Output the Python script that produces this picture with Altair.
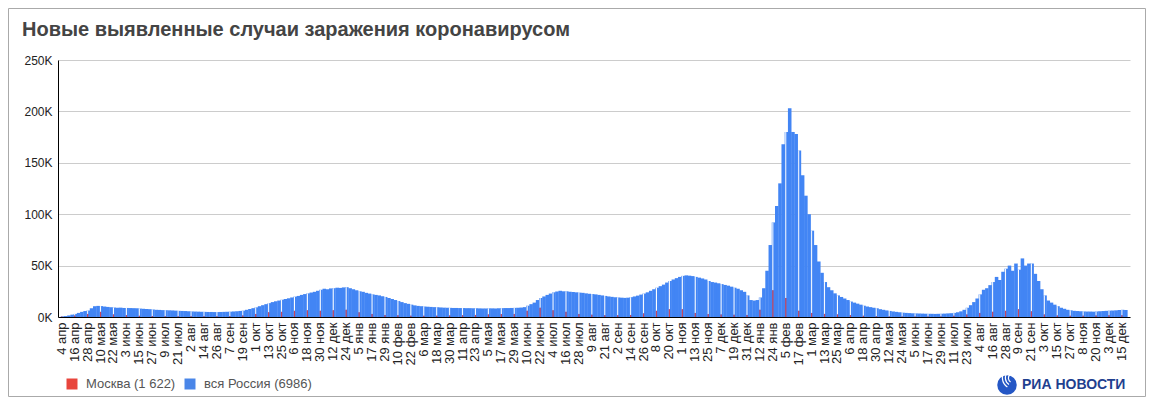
import altair as alt
import pandas as pd

TITLE = "Новые выявленные случаи заражения коронавирусом"

tick_labels = [
    "4 апр", "16 апр", "28 апр", "10 мая", "22 мая", "3 июн", "15 июн", "27 июн",
    "9 июл", "21 июл", "2 авг", "14 авг", "26 авг", "7 сен", "19 сен", "1 окт",
    "13 окт", "25 окт", "6 ноя", "18 ноя", "30 ноя", "12 дек", "24 дек", "5 янв",
    "17 янв", "29 янв", "10 фев", "22 фев", "6 мар", "18 мар", "30 мар", "11 апр",
    "23 апр", "5 мая", "17 мая", "29 мая", "10 июн", "22 июн", "4 июл", "16 июл",
    "28 июл", "9 авг", "21 авг", "2 сен", "14 сен", "26 сен", "8 окт", "20 окт",
    "1 ноя", "13 ноя", "25 ноя", "7 дек", "19 дек", "31 дек", "12 янв", "24 янв",
    "5 фев", "17 фев", "1 мар", "13 мар", "25 мар", "6 апр", "18 апр", "30 апр",
    "12 мая", "24 мая", "5 июн", "17 июн", "29 июн", "11 июл", "23 июл", "4 авг",
    "16 авг", "28 авг", "9 сен", "21 сен", "3 окт", "15 окт", "27 окт", "8 ноя",
    "20 ноя", "3 дек", "15 дек",
]

# вся Россия, thousands of cases, one value per 3-day step (4 steps between labels)
russia_k = [
    0.6, 0.9, 1.5, 2.3,   3.0, 4.0, 5.0, 5.8,   6.4, 8.5, 10.5, 10.8,  10.6, 10.2, 9.8, 9.5,
    9.2, 9.0, 9.1, 8.8,   8.8, 8.7, 8.6, 8.5,   8.2, 8.0, 7.8, 7.6,    7.3, 7.0, 6.9, 6.7,
    6.6, 6.5, 6.4, 6.2,   6.0, 5.9, 5.8, 5.6,   5.4, 5.3, 5.2, 5.1,    5.0, 4.9, 4.9, 4.8,
    4.8, 4.9, 5.0, 5.1,   5.2, 5.4, 5.6, 5.9,   6.2, 7.0, 7.8, 8.6,    9.4, 10.5, 11.5, 12.5,
    13.5, 14.5, 15.3, 16.0, 16.8, 17.5, 18.2, 19.0, 19.8, 20.5, 21.5, 22.3, 23.0, 23.8, 24.5, 25.5,
    26.5, 27.5, 27.0, 27.8, 28.0, 28.5, 28.3, 28.8, 29.0, 28.0, 27.0, 26.0, 25.0, 24.5, 23.5, 22.8,
    22.0, 21.5, 21.0, 20.2, 19.5, 18.5, 17.5, 16.5, 15.5, 14.5, 13.5, 12.8, 12.0, 11.3, 10.8, 10.5,
    10.2, 10.0, 9.8, 9.6,  9.5, 9.3, 9.1, 9.0,   8.9, 8.8, 8.8, 8.7,    8.7, 8.6, 8.6, 8.5,
    8.5, 8.4, 8.3, 8.3,   8.4, 8.4, 8.3, 8.5,   8.6, 8.7, 8.7, 8.8,    8.9, 9.0, 9.2, 9.6,
    11.0, 12.5, 14.0, 16.5, 18.5, 20.0, 21.5, 22.8, 24.0, 24.8, 25.5, 25.0, 25.0, 24.6, 24.3, 24.0,
    23.7, 23.5, 23.0, 22.6, 22.3, 22.0, 21.5, 21.0, 20.5, 20.0, 19.6, 19.2, 19.0, 18.8, 18.6, 18.8,
    19.3, 20.0, 20.8, 21.8, 22.8, 24.0, 25.5, 27.0, 28.5, 30.0, 31.5, 33.5, 35.0, 36.5, 37.8, 39.0,
    40.0, 40.5, 40.2, 39.8, 39.0, 38.3, 37.5, 36.5, 35.0, 34.0, 33.5, 32.8, 32.0, 31.2, 30.5, 29.5,
    28.5, 27.5, 26.0, 24.5, 21.0, 16.5, 16.0, 16.5, 19.0, 28.0, 45.0, 70.0, 92.0, 108.0, 130.0, 168.0,
    180.0, 203.0, 180.0, 178.0, 162.0, 138.0, 118.0, 100.0, 84.0, 70.0, 54.0, 43.0, 34.0, 29.0, 26.0, 23.0,
    21.0, 19.5, 18.0, 16.5, 15.0, 14.0, 13.0, 12.0, 11.0, 10.2, 9.6, 9.0, 8.5, 7.6, 7.0, 6.4,
    5.9, 5.4, 5.0, 4.6,   4.2, 4.0, 3.8, 3.6,   3.5, 3.4, 3.3, 3.2,    3.1, 3.1, 3.0, 3.1,
    3.2, 3.3, 3.5, 3.7,   4.0, 4.6, 5.5, 7.0,   9.0, 11.5, 14.5, 18.0,  22.0, 26.5, 28.0, 31.0,
    34.0, 39.0, 36.0, 44.0, 47.0, 50.0, 45.0, 52.0, 46.0, 57.0, 50.0, 52.0, 52.0, 42.0, 35.0, 27.0,
    21.0, 16.0, 14.0, 12.0, 10.5, 9.0, 8.0, 7.0, 6.5, 6.0, 5.8, 5.5, 5.4, 5.3, 5.3, 5.2,
    5.4, 5.6, 5.8, 6.0,   6.2, 6.3, 6.5, 6.8,   7.0, 6.8,
]

# Москва, thousands of cases, at each labelled date
moscow_k = [
    0.4, 1.4, 3.0, 5.0, 2.5, 1.8, 1.1, 0.9, 0.7, 0.65, 0.7, 0.7, 0.7, 0.8, 1.5, 3.0,
    4.5, 5.0, 6.0, 6.5, 6.0, 6.5, 7.0, 4.5, 3.0, 2.0, 1.6, 1.3, 1.2, 1.3, 1.5, 1.7,
    2.0, 2.5, 2.8, 3.0, 6.0, 9.0, 6.5, 5.0, 3.0, 2.3, 1.8, 1.6, 2.0, 3.5, 6.0, 7.5,
    7.5, 4.0, 2.8, 2.5, 2.2, 2.0, 7.0, 26.0, 18.5, 6.0, 4.0, 3.0, 2.5, 1.8, 1.2, 0.8,
    0.6, 0.5, 0.45, 0.45, 0.6, 1.2, 2.5, 4.0, 5.0, 6.0, 7.5, 5.5, 2.5, 1.5, 1.2, 1.3,
    1.5, 1.6, 1.6,
]

legend_labels = ["Москва (1 622)", "вся Россия (6986)"]
legend_colors = ["#e8453c", "#4a86e8"]

STEP = 3
TICK_EVERY = 12
BLUE = "#4285f4"
RED = "#c9445a"
FONT = "Liberation Sans"

bars = pd.DataFrame({
    "x0": [i * STEP - 0.5 for i in range(len(russia_k))],
    "x1": [i * STEP + STEP - 0.2 for i in range(len(russia_k))],
    "v": [v * 1000 for v in russia_k],
})
ticks = pd.DataFrame({
    "x0": [i * TICK_EVERY + 0.5 for i in range(len(tick_labels))],
    "v": [m * 1000 for m in moscow_k],
    "russia": [russia_k[i * TICK_EVERY // STEP] * 1000 for i in range(len(tick_labels))],
})

label_expr = "[" + ",".join("'" + s + "'" for s in tick_labels) + "][round(datum.value/12)]"
xscale = alt.Scale(domain=[-3, 992], nice=False, zero=False)
yscale = alt.Scale(domain=[0, 250000], nice=False)

x_axis = alt.Axis(values=[i * TICK_EVERY for i in range(len(tick_labels))],
                  labelExpr=label_expr, labelAngle=270, grid=False, ticks=False,
                  domainColor="#000000", domainWidth=1, labelColor="#222222",
                  labelFontSize=13, labelPadding=5, labelFont=FONT,
                  labelOverlap=False, labelBound=False)
y_axis = alt.Axis(values=[0, 50000, 100000, 150000, 200000, 250000],
                  labelExpr="datum.value/1000 + 'K'", grid=True, gridColor="#cccccc",
                  ticks=False, domainColor="#000000", domainWidth=1, labelColor="#222222",
                  labelFontSize=12, labelPadding=6, labelFont=FONT)

X = alt.X("x0:Q", scale=xscale, title=None, axis=x_axis)
Y = alt.Y("v:Q", scale=yscale, title=None, axis=y_axis)

base_bars = alt.Chart(bars).mark_rect(color=BLUE).encode(
    x=X, x2="x1:Q", y=Y, y2=alt.datum(0))

white_rules = alt.Chart(ticks).mark_rule(color="white", strokeWidth=1).encode(
    x=X, y=Y, y2="russia:Q")
red_rules = alt.Chart(ticks).mark_rule(color=RED, strokeWidth=1.2).encode(
    x=X, y=Y, y2=alt.datum(0))

one = pd.DataFrame({"a": [1]})

title = alt.Chart(pd.DataFrame({"t": [TITLE]})).mark_text(
    align="left", baseline="middle", fontSize=20, fontWeight="bold", color="#444444", font=FONT
).encode(text="t:N", x=alt.value(-36), y=alt.value(-30))

leg_layers = []
for lab, col, sx, tx in zip(legend_labels, legend_colors, [14, 132], [28, 146]):
    leg_layers.append(alt.Chart(one).mark_square(size=121, opacity=1, color=col).encode(
        x=alt.value(sx), y=alt.value(324)))
    leg_layers.append(alt.Chart(pd.DataFrame({"t": [lab]})).mark_text(
        align="left", baseline="middle", fontSize=13, color="#555555", font=FONT).encode(
        x=alt.value(tx), y=alt.value(324), text="t:N"))

logo_txt = alt.Chart(pd.DataFrame({"t": ["РИА НОВОСТИ"]})).mark_text(
    align="left", baseline="middle", fontSize=14, fontWeight="bold", color="#1f3f8f", font=FONT
).encode(text="t:N", x=alt.value(964), y=alt.value(325))
logo_circle = alt.Chart(one).mark_circle(size=380, color="#2457c5", opacity=1).encode(
    x=alt.value(949), y=alt.value(325))
logo_arcs = [
    alt.Chart(one).mark_arc(color="white", theta=3.7, theta2=5.5, radius=r, radius2=r + 1.2).encode(
        x=alt.value(955), y=alt.value(318))
    for r in [4, 7, 10]
]

border = alt.Chart(one).mark_rect(
    fill="transparent", stroke="#aaaaaa", strokeWidth=1).encode(
    x=alt.value(-49.5), x2=alt.value(1087.5), y=alt.value(-51.5), y2=alt.value(336.5))

chart = alt.layer(
    base_bars, white_rules, red_rules, title, *leg_layers,
    logo_circle, *logo_arcs, logo_txt, border,
).properties(
    width=1072, height=257,
    autosize=alt.AutoSizeParams(type="none"),
    padding={"left": 50, "top": 52, "right": 16, "bottom": 80},
).configure(font=FONT).configure_view(strokeWidth=0)

chart.save("out.html", embed_options={"renderer": "svg", "actions": False})
